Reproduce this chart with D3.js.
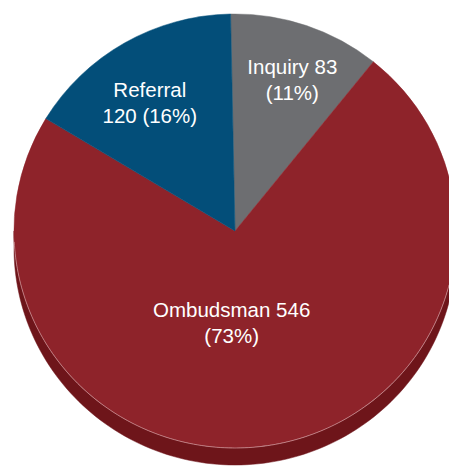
<!DOCTYPE html>
<html>
<head>
<meta charset="utf-8">
<script src="https://cdn.jsdelivr.net/npm/d3@7"></script>
<style>
  html, body { margin: 0; padding: 0; background: #ffffff; }
  svg { display: block; }
</style>
</head>
<body>
<svg id="chart" width="449" height="468"></svg>
<script>
// ---- data ----
const categories = ["Inquiry", "Ombudsman", "Referral"];
const values = [83, 546, 120];
const percentLabels = ["11%", "73%", "16%"];
const colors = ["#6D6E71", "#8E232A", "#034E79"];
const sideColors = ["#4F5052", "#6E151A", "#023553"];

// ---- layout ----
const W = 449, H = 468;
const cx = 235, cy = 231, rx = 221, ry = 217, depth = 17;
const startAngle = -0.02;

const svg = d3.select("#chart");

const pie = d3.pie().sort(null).value(d => d.value)
  .startAngle(startAngle).endAngle(startAngle + 2 * Math.PI);
const data = categories.map((c, i) => ({ name: c, value: values[i], pct: percentLabels[i], i }));
const arcs = pie(data);

// point on ellipse for pie-angle a (0 = top, clockwise)
const px = a => cx + rx * Math.sin(a);
const py = a => cy - ry * Math.cos(a);

// ---- side (visible front part: angles between PI/2 and 3PI/2) ----
const sideG = svg.append("g");
arcs.forEach(a => {
  let s = a.startAngle, e = a.endAngle;
  const lo = Math.max(s, Math.PI / 2), hi = Math.min(e, 3 * Math.PI / 2);
  if (hi <= lo) return;
  const n = 120;
  const angs = d3.range(n + 1).map(k => lo + (hi - lo) * k / n);
  const top = angs.map(t => [px(t), py(t)]);
  const bot = angs.slice().reverse().map(t => [px(t), py(t) + depth]);
  sideG.append("path")
    .attr("d", d3.line()(top.concat(bot)) + "Z")
    .attr("fill", sideColors[a.data.i])
    .attr("stroke", sideColors[a.data.i])
    .attr("stroke-width", 0.5);
});

// ---- top face ----
const arcGen = d3.arc().innerRadius(0).outerRadius(1);
const topG = svg.append("g").attr("transform", `translate(${cx},${cy}) scale(${rx},${ry})`);
topG.selectAll("path.slice")
  .data(arcs)
  .join("path")
  .attr("class", "slice")
  .attr("d", arcGen)
  .attr("fill", d => colors[d.data.i])
  .attr("stroke", d => colors[d.data.i])
  .attr("stroke-width", 0.5)
  .attr("vector-effect", "non-scaling-stroke");

// faint highlight along the front rim of the top face
{
  const n = 160;
  const lo = Math.PI / 2 + 0.25, hi = 3 * Math.PI / 2 - 0.05;
  const pts = d3.range(n + 1).map(k => { const t = lo + (hi - lo) * k / n; return [px(t), py(t)]; });
  svg.append("path")
    .attr("d", d3.line()(pts))
    .attr("fill", "none")
    .attr("stroke", "#D9A9AB")
    .attr("stroke-width", 0.8)
    .attr("opacity", 0.8);
}

// ---- labels ----
const labelPlacement = { "Inquiry": { r: 0.74, da: 0.03 }, "Ombudsman": { r: 0.43, da: 0.21 }, "Referral": { r: 0.70, da: -0.06 } };
const labelG = svg.append("g")
  .attr("font-family", "'Liberation Sans', Arial, Helvetica, sans-serif")
  .attr("font-size", 20.5)
  .attr("fill", "#ffffff")
  .attr("text-anchor", "middle");

arcs.forEach(a => {
  const p = labelPlacement[a.data.name];
  const mid = (a.startAngle + a.endAngle) / 2 + p.da;
  const x = cx + rx * p.r * Math.sin(mid);
  const y = cy - ry * p.r * Math.cos(mid);
  let lines;
  if (a.data.name === "Referral") lines = [a.data.name, `${a.data.value} (${a.data.pct})`];
  else lines = [`${a.data.name} ${a.data.value}`, `(${a.data.pct})`];
  const t = labelG.append("text").attr("x", x).attr("y", y - 7);
  lines.forEach((ln, k) => {
    t.append("tspan").attr("x", x).attr("dy", k === 0 ? 0 : 26).text(ln);
  });
});
</script>
</body>
</html>
